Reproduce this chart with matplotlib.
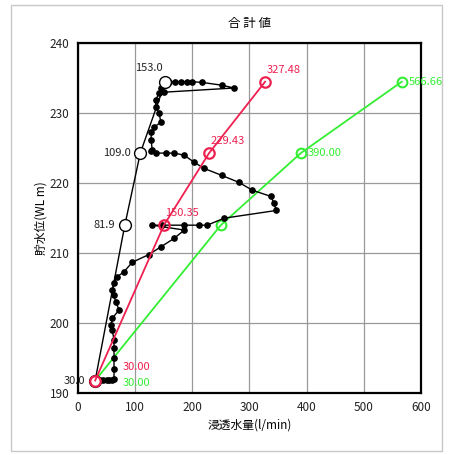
import matplotlib
matplotlib.use("Agg")
import matplotlib.pyplot as plt
from matplotlib.patches import Rectangle

plt.rcParams['font.family'] = ['Noto Sans CJK JP', 'DejaVu Sans']

# measured seepage (black dots), in plotting order
meas_q = [33, 38, 44, 50, 55, 60, 63, 63, 63, 63, 63, 60, 58, 60, 72, 66,
          63, 60, 63, 68, 80, 95, 124, 145, 168, 186, 130, 147, 186, 212,
          226, 256, 347, 343, 338, 305, 282, 252, 221, 203, 186, 168, 154,
          136, 128, 130, 128, 128, 133, 145, 142, 136, 136, 142, 145, 153,
          160, 170, 180, 190, 200, 217, 252, 273, 150]
meas_wl = [191.9, 191.9, 191.9, 191.9, 191.9, 191.9, 192.0, 193.5, 195.0,
           196.4, 197.6, 199.0, 199.7, 200.7, 201.9, 203.0, 204.0, 204.7,
           205.7, 206.6, 207.3, 208.7, 209.8, 210.9, 212.1, 213.3, 214.0,
           214.0, 214.0, 214.0, 214.0, 215.0, 216.1, 217.1, 218.1, 219.0,
           220.1, 221.1, 222.1, 223.0, 224.0, 224.3, 224.3, 224.3, 224.6,
           224.7, 226.1, 227.3, 228.0, 228.7, 230.0, 230.9, 231.9, 232.9,
           233.6, 234.5, 234.5, 234.5, 234.5, 234.5, 234.5, 234.4, 234.0,
           233.6, 233.0]

# reference level points (open circles)
ref_q = [30.0, 81.9, 109.0, 153.0]
ref_wl = [191.8, 214.0, 224.3, 234.5]
ref_lbl = ["30.0", "81.9", "109.0", "153.0"]

# red series
red_q = [30.00, 150.35, 229.43, 327.48]
red_wl = [191.8, 214.0, 224.3, 234.5]
red_lbl = ["30.00", "150.35", "229.43", "327.48"]

# green series
grn_q = [30.00, 250.0, 390.00, 566.66]
grn_wl = [191.8, 214.0, 224.3, 234.5]
grn_lbl = ["30.00", "", "390.00", "566.66"]

RED = "#ee2050"
GRN = "#33ee33"

fig = plt.figure(figsize=(4.51, 4.55), dpi=100)
fig.patches.append(Rectangle((0.025, 0.008), 0.955, 0.982, transform=fig.transFigure,
                             fill=False, edgecolor="#c8c8c8", linewidth=1.0))
ax = fig.add_axes([0.173, 0.136, 0.760, 0.769])

ax.plot(grn_q, grn_wl, color=GRN, lw=1.3, marker="o", ms=7, mfc="none",
        mec=GRN, mew=1.5, zorder=3)
ax.plot(meas_q, meas_wl, color="black", lw=1.0, marker="o", ms=3.8,
        mfc="black", mec="black", zorder=4)
ax.plot(ref_q, ref_wl, color="black", lw=1.0, marker="o", ms=8.5,
        mfc="white", mec="black", mew=1.0, zorder=5)
ax.plot(red_q, red_wl, color=RED, lw=1.3, marker="o", ms=7.5, mfc="none",
        mec=RED, mew=1.6, zorder=6)

for q, w, t in zip(ref_q, ref_wl, ref_lbl):
    if t == "153.0":
        ax.annotate(t, (q, w), xytext=(-2, 6), textcoords="offset points",
                    ha="right", va="bottom", fontsize=8, color="#222222")
    else:
        ax.annotate(t, (q, w), xytext=(-7, 0), textcoords="offset points",
                    ha="right", va="center", fontsize=8, color="#222222")

for q, w, t in zip(red_q, red_wl, red_lbl):
    if t == "30.00":
        ax.annotate(t, (q, w), xytext=(20, 10), textcoords="offset points",
                    ha="left", va="center", fontsize=8, color=RED)
    else:
        ax.annotate(t, (q, w), xytext=(1, 5), textcoords="offset points",
                    ha="left", va="bottom", fontsize=8, color=RED)

for q, w, t in zip(grn_q, grn_wl, grn_lbl):
    if not t:
        continue
    if t == "30.00":
        ax.annotate(t, (q, w), xytext=(20, -2), textcoords="offset points",
                    ha="left", va="center", fontsize=8, color=GRN)
    else:
        ax.annotate(t, (q, w), xytext=(5, 0), textcoords="offset points",
                    ha="left", va="center", fontsize=8, color=GRN)

ax.set_xlim(0, 600)
ax.set_ylim(190, 240)
ax.set_xticks(range(0, 601, 100))
ax.set_yticks(range(190, 241, 10))
ax.grid(True, color="#999999", lw=0.9)
ax.set_axisbelow(True)
ax.tick_params(length=0, labelsize=8.5, colors="#222222", pad=6)
for s in ax.spines.values():
    s.set_linewidth(1.6)
    s.set_color("black")

ax.set_title("合 計 値", fontsize=9, pad=12)
ax.set_xlabel("浸透水量(l/min)", fontsize=8.5, labelpad=3)
ax.set_ylabel("貯水位(WL m)", fontsize=8.5, labelpad=2)

fig.savefig("out.png", dpi=100)
